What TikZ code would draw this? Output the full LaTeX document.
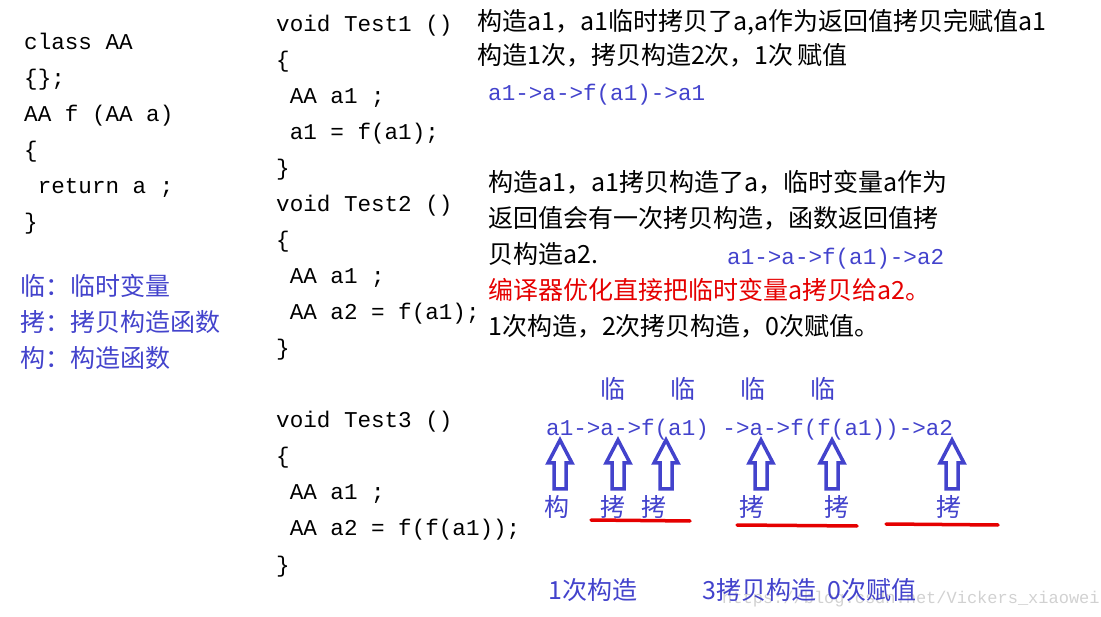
\documentclass[tikz,border=0pt]{standalone}
\usepackage{fontspec}
\setmainfont{Liberation Mono}
\newfontfamily\cjk{Noto Sans CJK SC}
\begin{document}
\begin{tikzpicture}[x=1pt,y=-1pt,
  t/.style={anchor=base west,inner sep=0pt,font=\fontsize{22.6}{22}\selectfont},
  c/.style={anchor=base west,inner sep=0pt,font=\fontsize{25}{25}\cjk},
  blu/.style={text=bcol},
  barrow/.style={draw=bcol,line width=3.5pt,line join=miter},
  redl/.style={draw=red!90!black,line width=3.5pt,line cap=round}]
\definecolor{bcol}{HTML}{4343CC}
\useasboundingbox (0,0) rectangle (1101,617);
% left code
\node[t] (l1) at (24,50) {class AA};
\node[t] (l2) at (24,86) {\{\};};
\node[t] (l3) at (24,122) {AA f (AA a)};
\node[t] (l4) at (24,158) {\{};
\node[t] (l5) at (24,194) {\ return a ;};
\node[t] (l6) at (24,230) {\}};
\node[c,blu] (g1) at (20,296) {临：临时变量};
\node[c,blu] (g2) at (20,332) {拷：拷贝构造函数};
\node[c,blu] (g3) at (20,368) {构：构造函数};
% middle code
\node[t] (m1) at (276,32) {void Test1 ()};
\node[t] (m2) at (276,68) {\{};
\node[t] (m3) at (276,104) {\ AA a1 ;};
\node[t] (m4) at (276,140) {\ a1 = f(a1);};
\node[t] (m5) at (276,176) {\}};
\node[t] (m6) at (276,212) {void Test2 ()};
\node[t] (m7) at (276,248) {\{};
\node[t] (m8) at (276,284) {\ AA a1 ;};
\node[t] (m9) at (276,320) {\ AA a2 = f(a1);};
\node[t] (m10) at (276,356) {\}};
\node[t] (m11) at (276,428) {void Test3 ()};
\node[t] (m12) at (276,464) {\{};
\node[t] (m13) at (276,500) {\ AA a1 ;};
\node[t] (m14) at (276,536) {\ AA a2 = f(f(a1));};
\node[t] (m15) at (276,572) {\}};
% right text
\node[c] (r1) at (477,31) {构造a1，a1临时拷贝了a,a作为返回值拷贝完赋值a1};
\node[c] (r2) at (477,65) {构造1次，拷贝构造2次，1次\,赋值};
\node[t,blu] (r3) at (488,101) {a1->a->f(a1)->a1};
\node[c] (p1) at (488,192) {构造a1，a1拷贝构造了a，临时变量a作为};
\node[c] (p2) at (488,228) {返回值会有一次拷贝构造，函数返回值拷};
\node[c] (p3) at (488,264) {贝构造a2.};
\node[t,blu] (p3b) at (727,265) {a1->a->f(a1)->a2};
\node[c,text=red!90!black] (p4) at (488,300) {编译器优化直接把临时变量a拷贝给a2。};
\node[c] (p5) at (488,336) {1次构造，2次拷贝构造，0次赋值。};
% chain
\foreach \x/\n in {600/k1,670/k2,740/k3,810/k4}
  \node[c,blu] (\n) at (\x,399) {临};
\node[t,blu] (ch) at (546,436) {a1->a->f(a1) ->a->f(f(a1))->a2};
\foreach \x in {560,618,666,761,832,952}
  \draw[barrow] (\x-6,489) -- (\x-6,463) -- (\x-12,463) -- (\x,440) -- (\x+12,463) -- (\x+6,463) -- (\x+6,489) -- cycle;
\node[c,blu] (b1) at (544,516) {构};
\foreach \x/\n in {600/b2,641/b3,739/b4,824/b5,936/b6}
  \node[c,blu] (\n) at (\x,516) {拷};
\draw[redl] (591,520) -- (690,521);
\draw[redl] (737,525) -- (857,526);
\draw[redl] (886,524) -- (998,525);
\node[anchor=base west,inner sep=0pt,font=\fontsize{17}{17}\selectfont,text=black!18] (wm) at (722,603) {https://blog.csdn.net/Vickers\_xiaowei};
\node[c,blu] (s1) at (548,599) {1次构造};
\node[c,blu] (s2) at (702,599) {3拷贝构造\ \ 0次赋值};
\end{tikzpicture}
\end{document}
